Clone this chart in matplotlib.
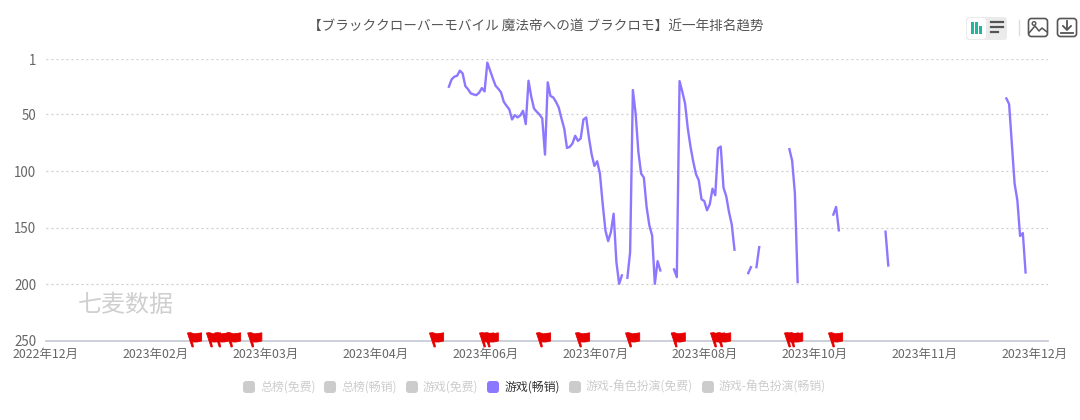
import numpy as np
import matplotlib
matplotlib.use("Agg")
import matplotlib.pyplot as plt
from matplotlib.patches import FancyBboxPatch, Rectangle, Polygon, Circle

plt.rcParams['font.family'] = ['Noto Sans CJK SC', 'Noto Sans CJK JP', 'DejaVu Sans']

nan = float('nan')
title = "【ブラッククローバーモバイル 魔法帝への道 ブラクロモ】近一年排名趋势"
tick_labels = ["2022年12月", "2023年02月", "2023年03月", "2023年04月", "2023年06月",
               "2023年07月", "2023年08月", "2023年10月", "2023年11月", "2023年12月"]
rank_ticks = [1, 50, 100, 150, 200, 250]
legend_names = ["总榜(免费)", "总榜(畅销)", "游戏(免费)", "游戏(畅销)", "游戏-角色扮演(免费)", "游戏-角色扮演(畅销)"]

first_day = 146.2
ranks_a = [25.5, 19, 16.6, 15.8, 11.3, 13.7, 24.9, 27.8, 31.4, 32.3, 32.9, 30.8, 26.7, 29.6,
           4.2, 11.3, 18.1, 24.6, 27.3, 30.5, 38.8, 42.3, 45.5, 54.4, 50.6, 52.6, 50.9, 46.7,
           58.5, 20.2, 34.3, 44.7, 47.6, 50, 53.5, 85.4, 21.6, 33.7, 34.9, 38.8, 43.8, 53.5,
           62.4, 79.5, 78.6, 75.6, 68.8, 73.3, 71.2, 54.4, 52.6, 70.3, 85.4, 95.4, 91.3, 102.2,
           128.7, 152.3, 161.8, 153.8, 137.6, 180.3, 199.5, 192.1, nan, 194.2, 171.5, 28.4, 49,
           83, 102.2, 105.7, 131.7, 147.9, 156.7, 199.5, 179.5, 187.7, nan, nan, nan, nan,
           186.8, 193.6, 20.5, 29.9, 40.2, 62.4, 78.6, 91.9, 102.8, 108.1, 124.9, 126.4, 134.6,
           129.3, 115.5, 121.3, 80, 78.3, 114.6, 122.2, 136.1, 147, 169.4, nan, nan, nan, nan,
           190.1, 184.8, nan, 184.8, 167.1]
gap_b = [nan] * 10
ranks_b = [80.6, 90.9, 119.8, 198]
gap_c = [nan] * 12
ranks_c = [138.4, 131.6, 152.3]
gap_d = [nan] * 16
ranks_d = [153.5, 183.3]
gap_e = [nan] * 42
ranks_e = [35.8, 40.8, 75.6, 111, 125.7, 157.3, 154.7, 189.5]
ranks = ranks_a + gap_b + ranks_b + gap_c + ranks_c + gap_d + ranks_d + gap_e + ranks_e

flag_days = [53.1, 60, 63, 67.3, 75, 141.1, 159.3, 161, 180, 194.2,
             212.4, 229, 243.3, 245.5, 270.2, 271.7, 286.2]

W, H = 1080, 420
fig = plt.figure(figsize=(W / 100, H / 100), dpi=100, facecolor='white')
L, R, T, B = 46, 1048, 59, 341
ax = fig.add_axes([L / W, 1 - B / H, (R - L) / W, (B - T) / H])
ax.set_xlim(0, (R - L) / 2.75)
ax.set_ylim(250, 1)
ax.set_facecolor('none')
for s in ['top', 'right', 'left']:
    ax.spines[s].set_visible(False)
ax.spines['bottom'].set_color('#c8ccd8')
ax.spines['bottom'].set_linewidth(1.3)
ax.set_yticks(rank_ticks)
ax.set_yticklabels([str(v) for v in rank_ticks])
ax.set_xticks([40 * i - 0.5 for i in range(len(tick_labels))])
ax.set_xticklabels(tick_labels)
ax.tick_params(axis='both', length=0, labelcolor='#666666')
ax.tick_params(axis='x', pad=5, labelsize=8.9)
ax.tick_params(axis='y', pad=7, labelsize=9.6)
for v in rank_ticks[:-1]:
    ax.axhline(v, color='#cccccc', lw=0.9, ls=(0, (1.5, 2.5)), zorder=1)

days = first_day + np.arange(len(ranks))
ax.plot(days, ranks, color='#8c78ff', lw=1.7, solid_joinstyle='round', zorder=3)

# pole base at origin, flag extends up and to the right
flag_verts = np.array([(0, 0), (-4.6, 14), (-1.5, 14.4), (2, 13.2), (5, 13.4), (9.6, 14.2),
                       (9.6, 6), (5, 5), (2, 5), (0.4, 5.4), (1.4, 0.2)])
ovl = fig.add_axes([0, 0, 1, 1], facecolor='none')
ovl.set_xlim(0, W)
ovl.set_ylim(H, 0)
ovl.axis('off')
for d in flag_days:
    x = L + d * 2.75
    ovl.add_patch(Polygon(np.c_[x + flag_verts[:, 0], 347 - flag_verts[:, 1]],
                          closed=True, fc='#e60000', ec='#e60000', lw=0.6, zorder=5))

ovl.text(536, 27, title, ha='center', va='center', fontsize=9.8, color='#555555')
ovl.text(125.5, 305, "七麦数据", ha='center', va='center', fontsize=17.3, color='#cfcfcf',
         fontweight='medium')

# legend
square_x = [243, 324, 406, 487, 569, 702]
text_x = [260, 341, 423, 505, 586, 719]
active = 3
for i, name in enumerate(legend_names):
    col = '#8c78ff' if i == active else '#cccccc'
    ovl.add_patch(FancyBboxPatch((square_x[i] + 2, 383), 8, 8, boxstyle='round,pad=2,rounding_size=3',
                                 fc=col, ec='none'))
    ovl.text(text_x[i], 387, name, ha='left', va='center', fontsize=8.6,
             color='#333333' if i == active else '#cccccc')

# toolbar
ovl.add_patch(FancyBboxPatch((966, 17), 41, 23, boxstyle='round,pad=0,rounding_size=3', fc='#ebebeb', ec='none'))
ovl.add_patch(FancyBboxPatch((967, 18), 19, 21, boxstyle='round,pad=0,rounding_size=3', fc='#ffffff', ec='none'))
for x, h in [(970.6, 12), (975, 12), (979.4, 8)]:
    ovl.add_patch(Rectangle((x, 34 - h), 3, h, fc='#1fb89f', ec='none'))
for y, x1 in [(22, 1003), (27, 1003), (32, 998)]:
    ovl.plot([991, x1], [y, y], color='#555555', lw=1.6)
ovl.plot([1018.5, 1018.5], [20, 35], color='#dddddd', lw=1)
ovl.add_patch(FancyBboxPatch((1028.5, 18.5), 19, 18, boxstyle='round,pad=0,rounding_size=3', fc='white', ec='#555555', lw=1.2))
ovl.plot([1029, 1035, 1039, 1042, 1047], [33, 26, 31, 28, 32], color='#555555', lw=1.1)
ovl.add_patch(Circle((1034, 23.5), 1.8, fc='white', ec='#555555', lw=1))
ovl.add_patch(FancyBboxPatch((1057.5, 18.5), 19, 18, boxstyle='round,pad=0,rounding_size=3', fc='white', ec='#555555', lw=1.2))
ovl.plot([1067, 1067], [21, 29], color='#555555', lw=1.3)
ovl.plot([1063, 1067, 1071], [26, 30, 26], color='#555555', lw=1.3)
ovl.plot([1061, 1073], [32.5, 32.5], color='#555555', lw=1.3)

fig.savefig('out.png', dpi=100)
